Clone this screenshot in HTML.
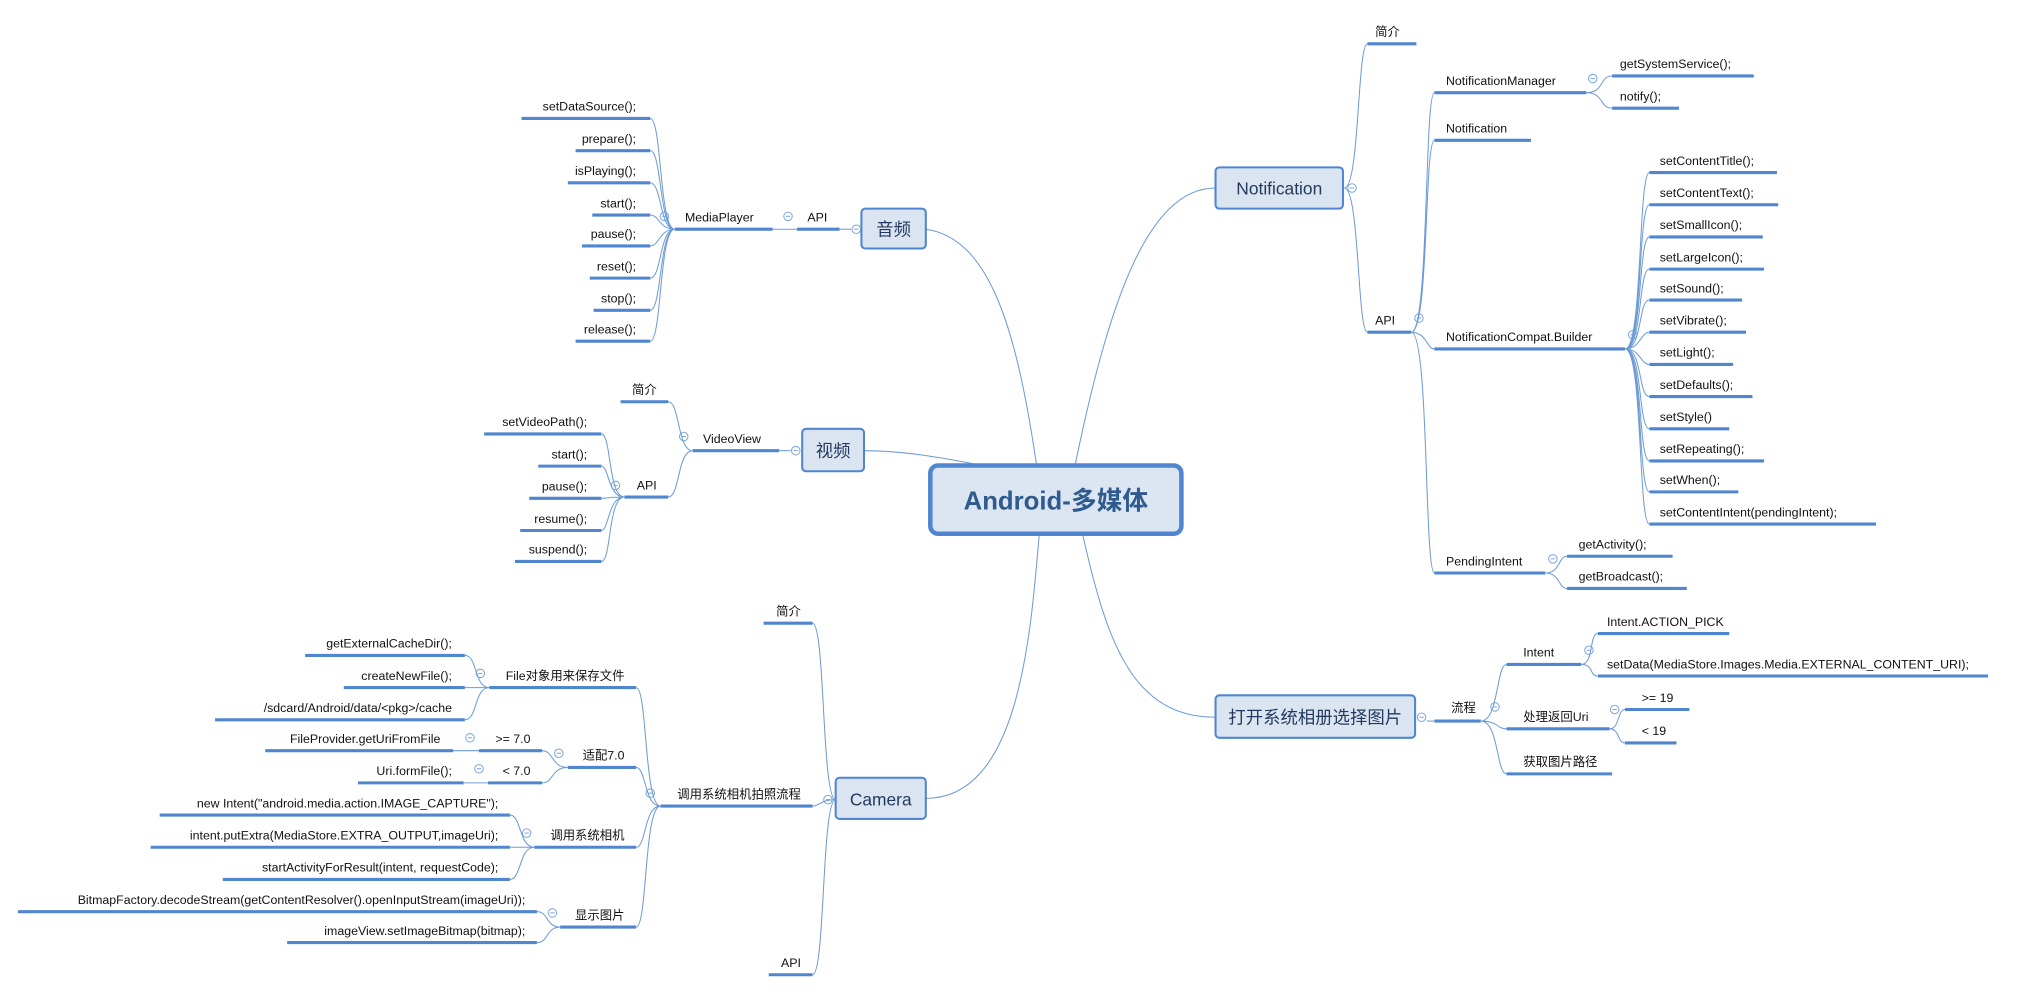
<!DOCTYPE html>
<html><head><meta charset="utf-8"><style>
html,body{margin:0;padding:0;background:#fff;width:2019px;height:992px;overflow:hidden}
svg{display:block}
text{font-family:"Liberation Sans","Noto Sans CJK SC",sans-serif;font-size:9.6px;fill:#111}
.u{stroke:#4f86cf;stroke-width:2.4;fill:none}
.k{stroke:#6d9bd6;stroke-width:0.8;fill:none}
.c circle{fill:#fff;stroke:#7ea6da;stroke-width:0.8}
.c path{stroke:#7ea6da;stroke-width:0.8}
.b{fill:#dbe5f2;stroke:#4f86cf;stroke-width:1.6}
.bt{font-size:13.5px;fill:#233a5e}
.l text{text-anchor:end}
</style></head><body>
<svg width="2019" height="992" viewBox="0 0 1568 770.4" xmlns="http://www.w3.org/2000/svg">
<!-- main connectors -->
<path class="k" d="M805 361 C790 260 770 185 719 178"/>
<path class="k" d="M760 361 C730 355 700 350 671 350"/>
<path class="k" d="M807 416 C800 500 790 620 719 620"/>
<path class="k" d="M835 361 C860 240 890 146 944 146"/>
<path class="k" d="M841 416 C860 500 880 557 944 557"/>

<!-- center -->
<rect x="722.5" y="361.5" width="195" height="53" rx="6" fill="#dce6f2" stroke="#4f86cf" stroke-width="3.5"/>
<text x="820" y="395.5" text-anchor="middle" style="font-size:20px;font-weight:bold;fill:#2e5a8e">Android-多媒体</text>

<!-- 音频 -->
<rect class="b" x="669" y="162" width="50" height="31" rx="3"/>
<text class="bt" x="694" y="183" text-anchor="middle">音频</text>
<g class="c"><circle cx="665" cy="178" r="3.3"/><path d="M663.3 178h3.4"/></g>
<path class="k" d="M652 178H661"/>
<path class="u" d="M619 178H652"/><text x="627" y="172">API</text>
<g class="c"><circle cx="612" cy="168" r="3.3"/><path d="M610.3 168h3.4"/></g>
<path class="k" d="M600 178H619"/>
<path class="u" d="M524 178H600"/><text x="532" y="172">MediaPlayer</text>
<g class="c"><circle cx="516" cy="168" r="3.3"/><path d="M514.3 168h3.4"/></g>
<g class="l">
<path class="u" d="M405 92H505"/><text x="494" y="86">setDataSource();</text>
<path class="u" d="M447 117H505"/><text x="494" y="111">prepare();</text>
<path class="u" d="M441 142H505"/><text x="494" y="136">isPlaying();</text>
<path class="u" d="M460 167H505"/><text x="494" y="161">start();</text>
<path class="u" d="M452 191H505"/><text x="494" y="185">pause();</text>
<path class="u" d="M458 216H505"/><text x="494" y="210">reset();</text>
<path class="u" d="M461 241H505"/><text x="494" y="235">stop();</text>
<path class="u" d="M447 265H505"/><text x="494" y="259">release();</text>
</g>
<path class="k" d="M524 178C512 178 514 92 505 92M524 178C512 178 514 117 505 117M524 178C512 178 514 142 505 142M524 178C512 178 512 167 505 167M524 178C512 178 512 191 505 191M524 178C512 178 514 216 505 216M524 178C512 178 514 241 505 241M524 178C512 178 514 265 505 265"/>

<!-- 视频 -->
<rect class="b" x="623" y="333" width="48" height="33" rx="3"/>
<text class="bt" x="647" y="355" text-anchor="middle">视频</text>
<g class="c"><circle cx="618" cy="350" r="3.3"/><path d="M616.3 350h3.4"/></g>
<path class="k" d="M605 350H614"/>
<path class="u" d="M538 350H605"/><text x="546" y="344">VideoView</text>
<g class="c"><circle cx="531" cy="339" r="3.3"/><path d="M529.3 339h3.4"/></g>
<g class="l">
<path class="u" d="M482 312H519"/><text x="510" y="306">简介</text>
<path class="u" d="M485 386H519"/><text x="510" y="380">API</text>
</g>
<path class="k" d="M538 350C526 350 528 312 519 312M538 350C526 350 528 386 519 386"/>
<g class="c"><circle cx="478" cy="377" r="3.3"/><path d="M476.3 377h3.4"/></g>
<g class="l">
<path class="u" d="M376 337H467"/><text x="456" y="331">setVideoPath();</text>
<path class="u" d="M418 362H467"/><text x="456" y="356">start();</text>
<path class="u" d="M411 387H467"/><text x="456" y="381">pause();</text>
<path class="u" d="M404 412H467"/><text x="456" y="406">resume();</text>
<path class="u" d="M400 436H467"/><text x="456" y="430">suspend();</text>
</g>
<path class="k" d="M485 386C472 386 475 337 467 337M485 386C472 386 473 362 467 362M485 386C472 386 472 387 467 387M485 386C472 386 473 412 467 412M485 386C472 386 475 436 467 436"/>

<!-- Camera -->
<rect class="b" x="649" y="604" width="70" height="32" rx="3"/>
<text class="bt" x="684" y="625.5" text-anchor="middle">Camera</text>
<g class="c"><circle cx="643" cy="621" r="3.3"/><path d="M641.3 621h3.4"/></g>
<g class="l">
<path class="u" d="M593 484H631"/><text x="622" y="478">简介</text>
<path class="u" d="M597 757H631"/><text x="622" y="751">API</text>
<path class="u" d="M513 626H631"/><text x="622" y="620">调用系统相机拍照流程</text>
</g>
<path class="k" d="M649 621C638 621 641 484 631 484M649 621C638 621 641 757 631 757M649 621C638 621 636 626 631 626"/>
<g class="c"><circle cx="505" cy="616" r="3.3"/><path d="M503.3 616h3.4"/></g>
<g class="l">
<path class="u" d="M380 534H494"/><text x="485" y="528">File对象用来保存文件</text>
<path class="u" d="M441 596H494"/><text x="485" y="590">适配7.0</text>
<path class="u" d="M415 658H494"/><text x="485" y="652">调用系统相机</text>
<path class="u" d="M435 720H494"/><text x="485" y="714">显示图片</text>
</g>
<path class="k" d="M513 626C500 626 503 534 494 534M513 626C500 626 502 596 494 596M513 626C500 626 502 658 494 658M513 626C500 626 503 720 494 720"/>
<g class="c"><circle cx="373" cy="523" r="3.3"/><path d="M371.3 523h3.4"/>
<circle cx="434" cy="585" r="3.3"/><path d="M432.3 585h3.4"/>
<circle cx="409" cy="647" r="3.3"/><path d="M407.3 647h3.4"/>
<circle cx="429" cy="709" r="3.3"/><path d="M427.3 709h3.4"/>
<circle cx="365" cy="573" r="3.3"/><path d="M363.3 573h3.4"/>
<circle cx="372" cy="597" r="3.3"/><path d="M370.3 597h3.4"/></g>
<g class="l">
<path class="u" d="M237 509H361"/><text x="351" y="503">getExternalCacheDir();</text>
<path class="u" d="M267 534H361"/><text x="351" y="528">createNewFile();</text>
<path class="u" d="M167 559H361"/><text x="351" y="553">/sdcard/Android/data/&lt;pkg&gt;/cache</text>
<path class="u" d="M372 583H421"/><text x="412" y="577">&gt;= 7.0</text>
<path class="u" d="M379 608H421"/><text x="412" y="602">&lt;  7.0</text>
<path class="u" d="M206 583H352"/><text x="342" y="577">FileProvider.getUriFromFile</text>
<path class="u" d="M278 608H360"/><text x="351" y="602">Uri.formFile();</text>
<path class="u" d="M124 633H396"/><text x="387" y="627">new Intent("android.media.action.IMAGE_CAPTURE");</text>
<path class="u" d="M117 658H396"/><text x="387" y="652">intent.putExtra(MediaStore.EXTRA_OUTPUT,imageUri);</text>
<path class="u" d="M173 683H396"/><text x="387" y="677">startActivityForResult(intent, requestCode);</text>
<path class="u" d="M14 708H417"/><text x="408" y="702">BitmapFactory.decodeStream(getContentResolver().openInputStream(imageUri));</text>
<path class="u" d="M223 732H417"/><text x="408" y="726">imageView.setImageBitmap(bitmap);</text>
</g>
<path class="k" d="M380 534C368 534 371 509 361 509M380 534H361M380 534C368 534 371 559 361 559"/>
<path class="k" d="M441 596C428 596 430 583 421 583M441 596C428 596 430 608 421 608M372 583H352M379 608H360"/>
<path class="k" d="M415 658C403 658 405 633 396 633M415 658H396M415 658C403 658 405 683 396 683"/>
<path class="k" d="M435 720C424 720 426 708 417 708M435 720C424 720 426 732 417 732"/>

<!-- Notification -->
<rect class="b" x="944" y="130" width="99" height="32" rx="3"/>
<text class="bt" x="993.5" y="151" text-anchor="middle">Notification</text>
<g class="c"><circle cx="1050" cy="146" r="3.3"/><path d="M1048.3 146h3.4"/></g>
<path class="u" d="M1062 34H1100"/><text x="1068" y="28">简介</text>
<path class="u" d="M1062 258H1096"/><text x="1068" y="252">API</text>
<path class="k" d="M1044 146C1056 146 1054 34 1062 34M1044 146C1056 146 1054 258 1062 258"/>
<g class="c"><circle cx="1102" cy="247" r="3.3"/><path d="M1100.3 247h3.4"/></g>
<path class="u" d="M1114 72H1232"/><text x="1123" y="66">NotificationManager</text>
<path class="u" d="M1114 109H1189"/><text x="1123" y="103">Notification</text>
<path class="u" d="M1114 271H1262"/><text x="1123" y="265">NotificationCompat.Builder</text>
<path class="u" d="M1114 445H1200"/><text x="1123" y="439">PendingIntent</text>
<path class="k" d="M1096 258C1110 258 1106 72 1114 72M1096 258C1110 258 1106 109 1114 109M1096 258C1108 258 1108 271 1114 271M1096 258C1110 258 1106 445 1114 445"/>
<g class="c"><circle cx="1237" cy="61" r="3.3"/><path d="M1235.3 61h3.4"/>
<circle cx="1268" cy="260" r="3.3"/><path d="M1266.3 260h3.4"/>
<circle cx="1206" cy="434" r="3.3"/><path d="M1204.3 434h3.4"/></g>
<path class="u" d="M1252 59H1362"/><text x="1258" y="53">getSystemService();</text>
<path class="u" d="M1252 84H1304"/><text x="1258" y="78">notify();</text>
<path class="k" d="M1232 72C1246 72 1242 59 1252 59M1232 72C1246 72 1242 84 1252 84"/>
<path class="u" d="M1281 134H1380"/><text x="1289" y="128">setContentTitle();</text>
<path class="u" d="M1281 159H1381"/><text x="1289" y="153">setContentText();</text>
<path class="u" d="M1281 184H1369"/><text x="1289" y="178">setSmallIcon();</text>
<path class="u" d="M1281 209H1370"/><text x="1289" y="203">setLargeIcon();</text>
<path class="u" d="M1281 233H1353"/><text x="1289" y="227">setSound();</text>
<path class="u" d="M1281 258H1356"/><text x="1289" y="252">setVibrate();</text>
<path class="u" d="M1281 283H1346"/><text x="1289" y="277">setLight();</text>
<path class="u" d="M1281 308H1361"/><text x="1289" y="302">setDefaults();</text>
<path class="u" d="M1281 333H1343"/><text x="1289" y="327">setStyle()</text>
<path class="u" d="M1281 358H1370"/><text x="1289" y="352">setRepeating();</text>
<path class="u" d="M1281 382H1350"/><text x="1289" y="376">setWhen();</text>
<path class="u" d="M1281 407H1457"/><text x="1289" y="401">setContentIntent(pendingIntent);</text>
<path class="k" d="M1262 271C1276 271 1272 134 1281 134M1262 271C1276 271 1272 159 1281 159M1262 271C1276 271 1272 184 1281 184M1262 271C1276 271 1272 209 1281 209M1262 271C1276 271 1272 233 1281 233M1262 271C1274 271 1274 258 1281 258M1262 271C1274 271 1274 283 1281 283M1262 271C1276 271 1272 308 1281 308M1262 271C1276 271 1272 333 1281 333M1262 271C1276 271 1272 358 1281 358M1262 271C1276 271 1272 382 1281 382M1262 271C1276 271 1272 407 1281 407"/>
<path class="u" d="M1217 432H1299"/><text x="1226" y="426">getActivity();</text>
<path class="u" d="M1217 457H1310"/><text x="1226" y="451">getBroadcast();</text>
<path class="k" d="M1200 445C1212 445 1210 432 1217 432M1200 445C1212 445 1210 457 1217 457"/>

<!-- 打开系统相册选择图片 -->
<rect class="b" x="944" y="540" width="155" height="33" rx="3"/>
<text class="bt" x="1021.5" y="562" text-anchor="middle">打开系统相册选择图片</text>
<g class="c"><circle cx="1104" cy="557" r="3.3"/><path d="M1102.3 557h3.4"/></g>
<path class="k" d="M1108 560H1114"/>
<path class="u" d="M1114 560H1150"/><text x="1127" y="553">流程</text>
<g class="c"><circle cx="1161" cy="549" r="3.3"/><path d="M1159.3 549h3.4"/></g>
<path class="u" d="M1170 516H1228"/><text x="1183" y="510">Intent</text>
<path class="u" d="M1170 566H1250"/><text x="1183" y="560">处理返回Uri</text>
<path class="u" d="M1170 601H1252"/><text x="1183" y="595">获取图片路径</text>
<path class="k" d="M1150 560C1164 560 1162 516 1170 516M1150 560C1164 560 1162 566 1170 566M1150 560C1164 560 1162 601 1170 601"/>
<g class="c"><circle cx="1234" cy="505" r="3.3"/><path d="M1232.3 505h3.4"/>
<circle cx="1254" cy="551" r="3.3"/><path d="M1252.3 551h3.4"/></g>
<path class="u" d="M1241 492H1343"/><text x="1248" y="486">Intent.ACTION_PICK</text>
<path class="u" d="M1241 525H1544"/><text x="1248" y="519">setData(MediaStore.Images.Media.EXTERNAL_CONTENT_URI);</text>
<path class="k" d="M1228 516C1238 516 1234 492 1241 492M1228 516C1238 516 1234 525 1241 525"/>
<path class="u" d="M1262 551H1312"/><text x="1275" y="545">&gt;= 19</text>
<path class="u" d="M1262 577H1302"/><text x="1275" y="571">&lt; 19</text>
<path class="k" d="M1250 566C1258 566 1256 551 1262 551M1250 566C1258 566 1256 577 1262 577"/>
</svg>
</body></html>
